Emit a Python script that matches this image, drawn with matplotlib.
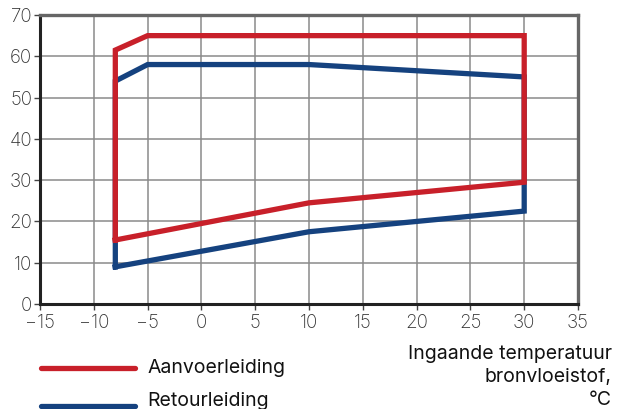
import matplotlib
matplotlib.use("Agg")
import matplotlib.pyplot as plt
from matplotlib.lines import Line2D

plt.rcParams['font.family'] = ['Inter', 'DejaVu Sans']

supply_x = [-8, -8, -5, 30, 30, 10, -8]
supply_y = [15.5, 61.5, 65, 65, 29.5, 24.5, 15.5]
return_x = [-8, -8, -5, 10, 30, 30, 10, -8]
return_y = [9, 54, 58, 58, 55, 22.5, 17.5, 9]

xticks = [-15, -10, -5, 0, 5, 10, 15, 20, 25, 30, 35]
yticks = [0, 10, 20, 30, 40, 50, 60, 70]
xtick_labels = ['\u221215', '\u221210', '\u22125', '0', '5', '10', '15', '20', '25', '30', '35']
legend_labels = ['Aanvoerleiding', 'Retourleiding']
xlabel_lines = ['Ingaande temperatuur', 'bronvloeistof,', '°C']

red = '#c8202a'
blue = '#15427f'

fig = plt.figure(figsize=(6.17, 4.09), dpi=100)
ax = fig.add_axes([40/617, 1-304/409, 538/617, 289/409])

ax.plot(return_x, return_y, color=blue, lw=3.8, solid_joinstyle='miter', zorder=3)
ax.plot(supply_x, supply_y, color=red, lw=3.8, solid_joinstyle='miter', zorder=4)

ax.set_xlim(-15, 35)
ax.set_ylim(0, 70)
ax.set_xticks(xticks)
ax.set_xticklabels(xtick_labels)
ax.set_yticks(yticks)
ax.grid(True, color='#8a8a8a', lw=1.1, zorder=0)
ax.tick_params(axis='both', labelsize=13.5, colors='#444444', length=4, width=1, labelcolor='#333333')
ax.tick_params(axis='x', pad=3)
ax.tick_params(axis='y', pad=1.5)
for lab in ax.get_xticklabels() + ax.get_yticklabels():
    lab.set_fontweight('light')

for s in ['left', 'bottom']:
    ax.spines[s].set_color('#222222')
    ax.spines[s].set_linewidth(2.2)
for s in ['top', 'right']:
    ax.spines[s].set_color('#666666')
    ax.spines[s].set_linewidth(2.4)

# legend
fig.add_artist(Line2D([41/617, 135/617], [1-368/409]*2, color=red, lw=3.8, solid_capstyle='round'))
fig.add_artist(Line2D([41/617, 135/617], [1-406/409]*2, color=blue, lw=3.8, solid_capstyle='round'))
fig.text(147/617, 1-368/409, legend_labels[0], fontsize=14, va='center', ha='left', color='#111111')
fig.text(147/617, 1-401/409, legend_labels[1], fontsize=14, va='center', ha='left', color='#111111')

for i, t in enumerate(xlabel_lines):
    fig.text(612/617, 1-(354 + 23*i)/409, t, fontsize=14, va='center', ha='right', color='#111111')

fig.savefig('out.png', dpi=100)
